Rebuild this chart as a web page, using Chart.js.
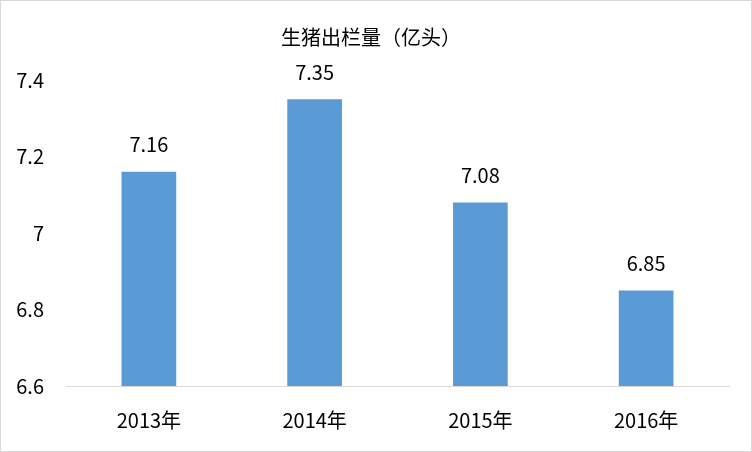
<!DOCTYPE html>
<html>
<head>
<meta charset="utf-8">
<script src="https://cdn.jsdelivr.net/npm/chart.js@4"></script>
<style>
  html,body{margin:0;padding:0;background:#fff;}
  #wrap{position:relative;width:752px;height:452px;box-sizing:border-box;border:1px solid #d9d9d9;}
  canvas{display:block;}
</style>
</head>
<body>
<div id="wrap"><canvas id="c" width="750" height="450"></canvas></div>
<script>
// data
const years = ["2013年","2014年","2015年","2016年"];
const output = [7.16, 7.35, 7.08, 6.85];
const yTicks = [6.6, 6.8, 7, 7.2, 7.4];

const FONT = '"Noto Sans CJK SC", "Noto Sans", sans-serif';

// draws the value above every bar
const valueLabels = {
  id: "valueLabels",
  afterDatasetsDraw(chart){
    const ctx = chart.ctx;
    const meta = chart.getDatasetMeta(0);
    ctx.save();
    ctx.font = "20px " + FONT;
    ctx.fillStyle = "#000";
    ctx.textAlign = "center";
    ctx.textBaseline = "middle";
    meta.data.forEach((bar,i)=>{
      ctx.fillText(output[i].toFixed(2), bar.x, bar.y - 27);
    });
    ctx.restore();
  }
};

new Chart(document.getElementById("c").getContext("2d"),{
  type:"bar",
  data:{
    labels: years,
    datasets:[{
      data: output,
      backgroundColor:"#5b9bd5",
      barPercentage:0.33,
      categoryPercentage:1
    }]
  },
  options:{
    responsive:false,
    animation:false,
    layout:{padding:{left:12,right:22,top:0,bottom:0}},
    plugins:{
      legend:{display:false},
      tooltip:{enabled:false},
      title:{
        display:true,
        text:"生猪出栏量（亿头）",
        color:"#000",
        font:{family:FONT,size:20,weight:"normal"},
        padding:{top:24,bottom:31}
      }
    },
    scales:{
      x:{
        grid:{display:false},
        border:{display:true,color:"#d9d9d9",width:1},
        ticks:{color:"#000",font:{family:FONT,size:20},padding:14},
        afterFit(s){ s.height = 65; }
      },
      y:{
        min:6.6, max:7.4,
        afterBuildTicks(s){ s.ticks = yTicks.map(v=>({value:v})); },
        grid:{display:false,drawTicks:false},
        border:{display:false},
        ticks:{color:"#000",font:{family:FONT,size:20},padding:22,
          callback:v=>String(Math.round(v*10)/10)},
        afterFit(s){ s.width = 53; }
      }
    }
  },
  plugins:[valueLabels]
});
</script>
</body>
</html>
